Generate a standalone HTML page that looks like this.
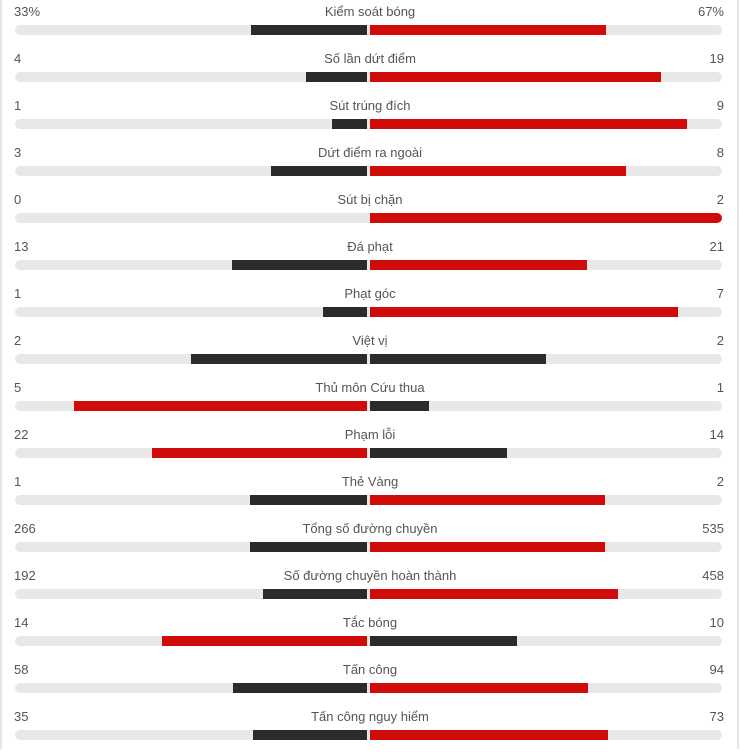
<!DOCTYPE html>
<html><head><meta charset="utf-8"><style>
body{margin:0;width:740px;height:749px;background:#fff;font-family:"Liberation Sans",Arial,sans-serif;overflow:hidden;position:relative}
.edge{position:absolute;top:0;bottom:0;width:2px;background:#e6e6e6}
.row{position:absolute;left:0;width:740px;height:47px}
.lv,.rv,.lb{position:absolute;top:3px;font-size:13px;color:#555;line-height:18px}
.lv{left:14px}.rv{right:16px}.lb{left:0;width:740px;text-align:center}
.track{position:absolute;left:15px;width:707px;top:25px;height:10px;background:#e8e8e8;border-radius:5px}
.bar{position:absolute;top:25px;height:10px}
</style></head><body>
<div class="edge" style="left:0"></div>
<div class="edge" style="left:737px"></div>
<div id="chart"></div>
<script>
const labels=["Kiểm soát bóng","Số lần dứt điểm","Sút trúng đích","Dứt điểm ra ngoài","Sút bị chặn","Đá phạt","Phạt góc","Việt vị","Thủ môn Cứu thua","Phạm lỗi","Thẻ Vàng","Tổng số đường chuyền","Số đường chuyền hoàn thành","Tắc bóng","Tấn công","Tấn công nguy hiểm"];
const homeVals=[33,4,1,3,0,13,1,2,5,22,1,266,192,14,58,35];
const awayVals=[67,19,9,8,2,21,7,2,1,14,2,535,458,10,94,73];
const homeText=["33%","4","1","3","0","13","1","2","5","22","1","266","192","14","58","35"];
const awayText=["67%","19","9","8","2","21","7","2","1","14","2","535","458","10","94","73"];
const chart=document.getElementById('chart');
const HALF=352,CL=367,CR=370,STEP=47;
labels.forEach((lab,i)=>{
  const r=document.createElement('div');r.className='row';r.style.top=(i*STEP)+'px';
  
  
  const h=homeVals[i],a=awayVals[i],t=h+a||1;
  const hw=h/t*HALF,aw=a/t*HALF;
  const red='#d10a0a',dark='#2b2b2b';
  const hc=h>a?red:dark, ac=a>h?red:dark;
  const lv=document.createElement('div');lv.className='lv';lv.textContent=homeText[i];
  
  
  const rv=document.createElement('div');rv.className='rv';rv.textContent=awayText[i];
  
  
  const lb=document.createElement('div');lb.className='lb';lb.textContent=lab;
  
  
  const tr=document.createElement('div');tr.className='track';
  
  
  const hb=document.createElement('div');hb.className='bar';
  hb.style.left=(CL-hw)+'px';hb.style.width=hw+'px';hb.style.background=hc;
  
  
  const ab=document.createElement('div');ab.className='bar';
  ab.style.left=CR+'px';ab.style.width=aw+'px';ab.style.background=ac;
  if(aw>=HALF-1)ab.style.borderRadius='0 5px 5px 0';
  
  
  r.append(tr,hb,ab,lv,lb,rv);chart.appendChild(r);
});
</script>
</body></html>
